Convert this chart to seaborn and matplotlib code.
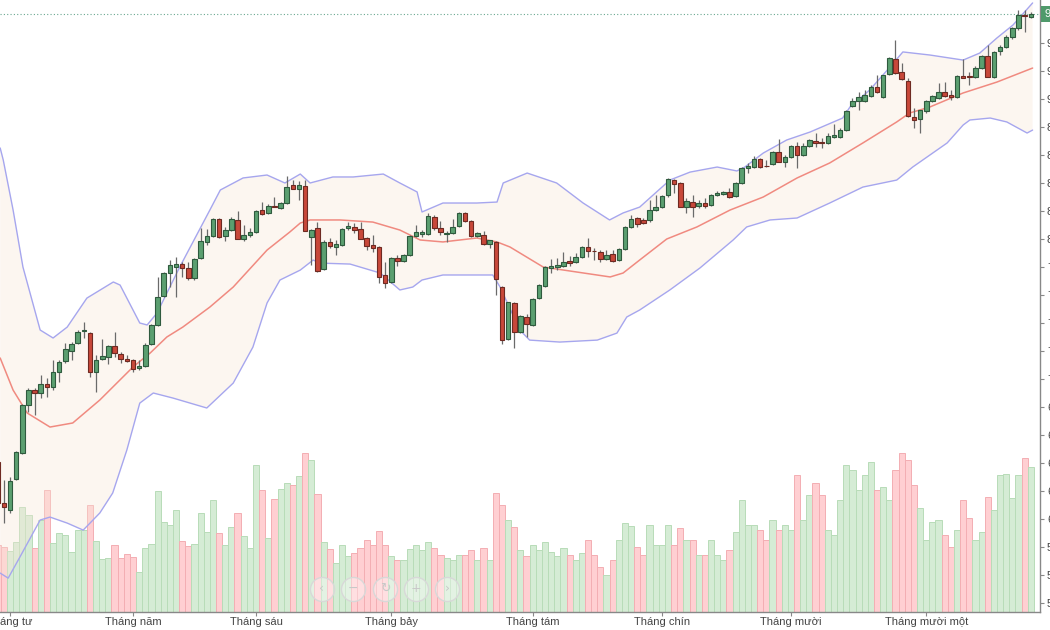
import numpy as np
import pandas as pd
import matplotlib
matplotlib.use("Agg")
import matplotlib.pyplot as plt
import matplotlib.transforms as mtrans
import seaborn as sns

# ---- data (trading-day index, price, volume) ----
day = np.arange(-1, 168)

open_ = [640.7, 611.4, 606.4, 628.6, 647.1, 681.4, 692.1, 690.0, 696.4, 694.3,
         705.0, 712.8, 720.0, 725.7, 734.6, 732.8, 705.0, 714.3, 715.7, 723.6,
         717.8, 714.3, 713.6, 707.8, 709.3, 725.0, 738.6, 759.3, 775.7, 780.0,
         782.1, 779.3, 772.1, 786.4, 797.8, 802.1, 814.3, 802.1, 806.4, 813.6,
         800.0, 802.8, 805.0, 820.7, 818.6, 823.6, 822.1, 825.7, 838.6, 835.7,
         837.8, 801.4, 807.8, 778.6, 797.8, 794.3, 795.7, 807.8, 808.6, 807.1,
         800.7, 795.7, 794.3, 774.3, 769.3, 786.4, 784.3, 788.6, 802.1, 803.6,
         803.6, 815.7, 807.8, 803.9, 804.3, 809.3, 818.6, 812.8, 802.1, 802.8,
         796.4, 797.8, 765.7, 728.6, 754.3, 733.6, 744.3, 738.6, 757.8, 766.4,
         779.3, 780.0, 780.7, 784.3, 783.6, 787.1, 794.3, 791.4, 790.7, 785.7,
         789.3, 785.0, 792.8, 808.6, 815.0, 813.6, 813.6, 820.7, 822.8, 831.4,
         842.1, 840.0, 822.8, 826.4, 823.6, 825.7, 824.3, 831.4, 832.1, 833.6,
         830.7, 840.0, 850.7, 851.4, 857.1, 852.1, 853.6, 862.1, 855.0, 858.6,
         866.4, 860.0, 866.4, 870.0, 869.3, 868.6, 872.8, 872.8, 877.8, 895.0,
         898.6, 898.6, 902.1, 908.6, 901.4, 917.8, 928.6, 919.3, 912.8, 887.1,
         885.7, 891.4, 898.6, 900.7, 905.0, 902.8, 901.4, 916.4, 916.4, 915.7,
         922.1, 930.7, 915.7, 934.3, 937.1, 944.3, 950.7, 960.0, 958.6]

high = [642.1, 627.8, 630.0, 648.6, 682.1, 693.6, 693.6, 702.8, 700.7, 713.6,
        713.6, 725.7, 726.4, 735.0, 740.7, 733.6, 717.1, 728.6, 724.3, 733.6,
        719.3, 717.1, 714.3, 713.6, 725.7, 739.3, 772.8, 776.4, 785.0, 787.1,
        783.6, 783.6, 786.4, 807.8, 807.1, 815.0, 815.0, 808.6, 815.7, 820.0,
        810.0, 807.8, 820.7, 826.4, 825.0, 830.0, 826.4, 845.0, 842.1, 841.4,
        842.1, 807.1, 812.1, 799.3, 800.7, 799.3, 807.8, 812.1, 811.4, 812.1,
        801.4, 802.8, 795.0, 783.6, 787.1, 788.6, 789.3, 802.8, 810.0, 806.4,
        818.6, 817.1, 812.8, 805.7, 814.3, 819.3, 819.3, 813.6, 805.0, 805.7,
        799.3, 798.6, 766.4, 755.0, 755.0, 745.7, 746.4, 757.8, 767.8, 780.7,
        785.7, 786.4, 790.7, 787.8, 790.0, 795.0, 800.7, 793.6, 792.1, 792.1,
        792.1, 793.6, 809.3, 817.1, 815.7, 815.0, 827.8, 831.4, 831.4, 843.6,
        842.8, 840.7, 829.3, 831.4, 827.8, 829.3, 832.1, 834.3, 834.3, 836.4,
        840.7, 851.4, 854.3, 859.3, 857.8, 856.4, 862.8, 871.4, 860.0, 867.1,
        869.3, 868.6, 871.4, 875.7, 872.1, 875.7, 882.1, 879.3, 892.1, 900.7,
        905.0, 906.4, 910.0, 917.1, 917.1, 930.0, 942.1, 925.7, 915.0, 893.6,
        892.1, 899.3, 902.8, 911.4, 912.1, 906.4, 917.1, 928.6, 919.3, 923.6,
        931.4, 938.6, 934.3, 938.6, 945.7, 951.4, 963.6, 963.6, 962.1]

low = [610.0, 597.1, 604.3, 627.8, 646.4, 676.4, 674.3, 686.4, 687.1, 692.1,
       697.8, 711.4, 713.6, 725.0, 729.3, 701.4, 690.7, 713.6, 710.7, 715.7,
       711.4, 712.1, 705.0, 706.4, 708.6, 724.3, 737.8, 758.6, 765.7, 758.6,
       772.8, 770.7, 770.7, 785.7, 795.7, 801.4, 800.7, 798.6, 805.7, 800.0,
       798.6, 801.4, 804.3, 817.1, 817.8, 822.8, 821.4, 825.0, 835.7, 827.8,
       805.7, 781.4, 776.4, 777.8, 793.6, 788.6, 795.0, 806.4, 804.3, 800.0,
       792.1, 790.7, 768.6, 765.0, 768.6, 780.7, 783.6, 787.8, 801.4, 801.4,
       802.8, 806.4, 802.8, 797.8, 803.6, 808.6, 812.1, 801.4, 801.4, 795.7,
       793.6, 760.0, 725.0, 727.8, 722.1, 732.8, 730.0, 737.8, 757.1, 765.7,
       775.7, 777.8, 780.0, 780.7, 782.8, 786.4, 787.1, 785.0, 783.6, 785.0,
       783.6, 784.3, 792.1, 807.8, 808.6, 810.7, 812.1, 820.0, 822.1, 830.0,
       832.8, 822.8, 818.6, 815.7, 822.1, 822.1, 823.6, 830.7, 831.4, 829.3,
       830.0, 839.3, 847.1, 850.7, 850.7, 851.4, 852.8, 855.0, 851.4, 857.8,
       850.7, 859.3, 865.7, 865.7, 865.0, 867.8, 872.1, 872.1, 877.1, 894.3,
       892.1, 897.8, 901.4, 904.3, 900.7, 917.1, 917.8, 913.6, 887.1, 879.3,
       875.7, 890.0, 897.8, 900.0, 901.4, 899.3, 900.7, 915.0, 910.0, 915.0,
       921.4, 915.7, 915.0, 931.4, 936.4, 942.8, 949.3, 947.8, 957.8]

close = [611.4, 608.6, 627.1, 647.8, 681.4, 692.1, 690.0, 696.4, 694.3, 705.0,
         712.1, 721.4, 725.0, 733.6, 735.0, 705.0, 713.6, 716.4, 723.6, 718.6,
         714.3, 713.2, 707.1, 709.3, 724.3, 738.6, 758.6, 775.7, 781.4, 782.1,
         779.3, 772.1, 785.7, 798.6, 802.1, 814.3, 801.4, 806.4, 814.3, 800.0,
         802.8, 805.0, 820.0, 817.8, 823.6, 822.8, 825.7, 837.1, 835.7, 838.6,
         805.7, 806.4, 777.1, 797.8, 795.0, 796.4, 807.1, 809.3, 806.4, 800.0,
         795.0, 793.6, 772.8, 768.6, 786.4, 784.3, 788.6, 802.1, 805.0, 805.0,
         816.4, 807.8, 805.0, 804.3, 808.6, 818.6, 812.8, 802.1, 804.3, 796.4,
         799.3, 771.4, 727.8, 755.0, 733.6, 745.0, 739.3, 757.1, 767.1, 780.0,
         780.7, 781.4, 783.6, 783.2, 787.1, 794.3, 791.4, 791.1, 785.7, 788.6,
         784.3, 792.8, 808.6, 814.3, 810.7, 811.4, 820.7, 822.8, 830.7, 842.8,
         839.3, 822.8, 827.1, 822.8, 825.7, 823.6, 831.4, 832.8, 833.6, 830.0,
         840.0, 850.7, 852.1, 857.1, 851.4, 851.8, 862.1, 855.0, 858.6, 866.4,
         860.0, 866.4, 870.7, 868.6, 868.6, 873.6, 874.3, 877.8, 891.4, 898.6,
         901.4, 902.8, 908.6, 905.0, 917.1, 929.3, 918.6, 914.3, 887.8, 885.0,
         892.1, 898.6, 902.1, 905.0, 902.1, 901.4, 916.4, 915.0, 915.7, 922.1,
         930.7, 915.7, 933.6, 937.1, 944.3, 950.7, 960.0, 959.3, 960.7]

volume = [67, 65, 61, 70, 105, 97, 64, 92, 122, 69,
          79, 77, 60, 82, 82, 107, 71, 53, 54, 67,
          54, 58, 55, 40, 64, 68, 121, 90, 87, 102,
          71, 66, 68, 99, 80, 112, 79, 67, 85, 99,
          76, 64, 147, 122, 74, 113, 123, 129, 127, 136,
          159, 152, 118, 70, 63, 49, 67, 56, 59, 64,
          72, 67, 81, 67, 56, 52, 52, 63, 67, 62,
          70, 64, 57, 54, 52, 57, 57, 62, 52, 64,
          52, 119, 107, 92, 85, 62, 56, 67, 62, 70,
          60, 56, 64, 57, 52, 59, 72, 57, 45, 37,
          52, 72, 89, 86, 65, 57, 87, 67, 67, 87,
          67, 84, 72, 72, 57, 57, 72, 57, 52, 62,
          80, 112, 87, 87, 82, 72, 92, 82, 87, 82,
          137, 92, 117, 129, 117, 82, 77, 112, 147, 142,
          122, 137, 150, 122, 125, 112, 142, 159, 152, 127,
          104, 72, 90, 92, 77, 65, 82, 112, 94, 72,
          80, 115, 102, 137, 138, 114, 137, 154, 145]

# Bollinger bands (day index, price)
upper_day = [-0.6, -0.1, 1.5, 3.1, 5.9, 8.0, 10.3, 13.5, 17.8, 18.9, 22.1, 23.3,
             24.9, 28.6, 33.5, 35.2, 38.9, 42.8, 45.7, 48.2, 49.8, 53.5, 56.8,
             61.7, 64.4, 67.2, 68.0, 71.4, 76.9, 80.2, 81.2, 85.1, 89.9, 94.2,
             98.5, 100.7, 103.4, 108.3, 111.6, 116.0, 119.2, 120.5, 123.5, 127.3,
             131.1, 136.4, 137.6, 140.8, 144.1, 146.2, 150.6, 156.0, 158.7,
             161.5, 164.1, 167.3]
upper_val = [865.0, 856.4, 820.7, 780.0, 735.0, 729.3, 737.1, 757.8, 769.3, 767.1,
             740.0, 738.6, 747.1, 780.0, 820.7, 835.0, 843.6, 845.7, 840.0, 846.4,
             840.0, 844.3, 844.3, 846.4, 840.0, 833.6, 819.3, 825.7, 825.7, 826.4,
             840.0, 847.1, 840.0, 825.7, 813.6, 818.6, 822.8, 842.1, 847.8, 851.4,
             848.6, 851.4, 861.4, 870.7, 876.4, 886.4, 894.3, 906.4, 922.8, 933.6,
             931.4, 927.8, 932.8, 943.6, 952.8, 968.6]

mid_day = [-0.6, 1.5, 3.8, 7.5, 11.2, 15.6, 21.0, 23.8, 26.5, 29.1, 33.5, 37.3,
           42.8, 46.5, 48.2, 49.8, 54.7, 60.0, 64.4, 67.7, 71.4, 76.9, 80.2, 82.3,
           87.7, 93.2, 98.6, 100.7, 103.4, 107.8, 112.7, 118.1, 123.5, 129.0,
           134.3, 139.7, 145.2, 147.3, 150.6, 156.0, 161.5, 167.3]
mid_val = [715.0, 692.1, 675.7, 665.7, 668.6, 685.0, 708.6, 718.6, 730.0, 737.1,
           751.4, 765.7, 792.1, 805.0, 811.4, 813.6, 813.6, 812.1, 806.4, 799.3,
           797.9, 800.7, 797.9, 794.3, 780.0, 776.4, 772.9, 775.7, 785.0, 800.0,
           808.6, 820.7, 830.0, 843.6, 854.3, 868.6, 883.6, 890.0, 894.3, 904.3,
           912.1, 922.1]

lower_day = [-0.6, 0.7, 2.6, 5.9, 7.5, 10.3, 12.9, 15.6, 17.7, 20.0, 22.1, 24.3,
             27.5, 33.0, 37.3, 40.5, 42.8, 44.9, 48.2, 50.3, 51.4, 56.3, 61.2,
             64.4, 66.5, 68.0, 71.4, 79.5, 80.7, 83.9, 85.5, 90.4, 96.5, 99.7,
             101.3, 103.4, 108.3, 113.2, 118.6, 120.8, 124.6, 129.0, 134.3, 139.7,
             145.2, 147.8, 153.4, 156.0, 157.1, 160.4, 163.1, 166.4, 167.3]
lower_val = [561.4, 557.8, 572.8, 599.3, 601.4, 597.1, 592.1, 604.3, 618.6, 649.3,
             682.8, 690.0, 686.4, 679.3, 697.1, 722.8, 754.3, 770.7, 777.8, 785.0,
             782.8, 782.1, 775.7, 763.6, 765.7, 770.7, 774.3, 774.3, 765.7, 735.0,
             727.8, 726.4, 727.8, 732.8, 744.3, 749.3, 763.6, 779.3, 799.3, 808.6,
             813.6, 815.0, 825.7, 837.1, 842.1, 851.4, 868.6, 881.4, 885.0, 886.4,
             883.6, 875.7, 877.8]

month_day = [1, 21, 41, 63, 86, 107, 128, 150]
month_lbl = ["Tháng tư", "Tháng năm", "Tháng sáu", "Tháng bảy", "Tháng tám",
             "Tháng chín", "Tháng mười", "Tháng mười một"]

price_ticks = list(range(540, 960, 20))

df = pd.DataFrame({"day": day, "open": open_, "high": high, "low": low,
                   "close": close, "volume": volume})
df["up"] = df["close"] >= df["open"]

# ---- style ----
sns.set_theme(style="white")
plt.rcParams["font.family"] = ["Liberation Sans", "DejaVu Sans"]

fig = plt.figure(figsize=(10.5, 6.3), dpi=100)
ax_v = fig.add_axes([0.0, 18 / 630, 1040 / 1050, 612 / 630])
ax = ax_v.twinx()

# volume bars
vcol = np.where(df["up"], "#d5ecd5", "#ffcfd2")
vedge = np.where(df["up"], "#b8dcb8", "#f3aeb3")
ax_v.bar(df["day"], df["volume"], width=1.0, color=vcol, edgecolor=vedge,
         linewidth=0.7, zorder=1)
ax_v.set_ylim(0, 612)
ax_v.set_yticks([])

# band fill and lines
ax.fill(np.concatenate([upper_day, lower_day[::-1]]),
        np.concatenate([upper_val, lower_val[::-1]]),
        color="#f8e6d6", alpha=0.35, lw=0, zorder=1)
band = pd.DataFrame({"day": upper_day, "val": upper_val})
sns.lineplot(data=band, x="day", y="val", ax=ax, color="#a6a6ee", lw=1.0,
             sort=False, zorder=2)
band = pd.DataFrame({"day": lower_day, "val": lower_val})
sns.lineplot(data=band, x="day", y="val", ax=ax, color="#a6a6ee", lw=1.0,
             sort=False, zorder=2)
band = pd.DataFrame({"day": mid_day, "val": mid_val})
sns.lineplot(data=band, x="day", y="val", ax=ax, color="#f08a80", lw=1.1,
             sort=False, zorder=2)

# candles
ax.vlines(df["day"], df["low"], df["high"], color="#6a6a6a", lw=0.9, zorder=3)
body_lo = df[["open", "close"]].min(axis=1)
body_h = (df["close"] - df["open"]).abs().clip(lower=0.5)
face = np.where(df["up"], "#5b9f70", "#c8483a")
edge = np.where(df["up"], "#2f5a3e", "#6e2a22")
ax.bar(df["day"], body_h, bottom=body_lo, width=0.74, color=face,
       edgecolor=edge, linewidth=0.8, zorder=4)

# last price line + tag
last = close[-1]
ax.axhline(last, color="#6aa891", lw=0.8, ls=(0, (1, 2)), zorder=2)
tr = mtrans.blended_transform_factory(ax.transAxes, ax.transData)
ax.text(1.004, last, f"{last:.2f}", transform=tr, ha="left", va="center",
        fontsize=8, color="white",
        bbox=dict(boxstyle="square,pad=0.25", fc="#4f9a6b", ec="none"))

# axes
ax.set_xlim(-0.63, 168.5)
ax.set_ylim(533.6, 970.7)
ax.set_yticks(price_ticks)
ax.set_yticklabels([f"{t:,.2f}" for t in price_ticks])
ax.tick_params(axis="y", right=True, direction="out", length=3, width=0.8,
               color="#888888", labelsize=8, labelcolor="#444444", pad=2)
ax.set_ylabel("")
ax.set_xlabel("")
ax_v.set_xticks(month_day)
ax_v.set_xticklabels(month_lbl)
ax_v.tick_params(axis="x", bottom=True, direction="out", length=3, width=0.8,
                 color="#888888", labelsize=8, labelcolor="#444444", pad=6.6)
for lab in ax_v.get_xticklabels():
    lab.set_verticalalignment("baseline")
for a in (ax, ax_v):
    for s in ("top", "left"):
        a.spines[s].set_visible(False)
ax_v.spines["right"].set_visible(False)
ax.spines["bottom"].set_visible(False)
ax.spines["right"].set_color("#888888")
ax_v.spines["bottom"].set_color("#888888")
ax.spines["right"].set_linewidth(1.0)
ax_v.spines["bottom"].set_linewidth(1.0)

# navigation buttons of the chart widget
nav_x = [0.3096, 0.3394, 0.3702, 0.4, 0.4298]
nav_txt = ["‹", "−", "↻", "+", "›"]
ax.scatter(nav_x, [0.038] * 5, s=300, transform=ax.transAxes, facecolor=(1, 1, 1, 0.35),
           edgecolor="#d8d8d8", linewidth=1.0, zorder=6, clip_on=False)
for xx, tt in zip(nav_x, nav_txt):
    ax.text(xx, 0.038, tt, transform=ax.transAxes, ha="center", va="center",
            fontsize=9, color="#c8c8c8", zorder=7, family=["DejaVu Sans"])

fig.savefig("out.png", dpi=100)
